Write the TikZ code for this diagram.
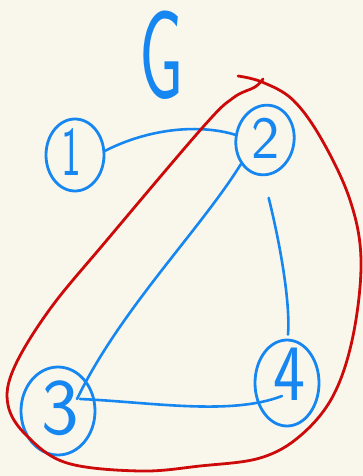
\documentclass[tikz,border=0pt]{standalone}
\usepackage{fontspec}
\usetikzlibrary{calc,shapes.geometric}
\definecolor{bg}{RGB}{249,247,236}
\definecolor{pen}{RGB}{22,134,240}
\definecolor{redpen}{RGB}{204,10,10}
\begin{document}
\begin{tikzpicture}[x=1pt,y=-1pt,
  vertex/.style={draw=pen,line width=2.8pt,ellipse,inner sep=0pt},
  digit/.style={text=pen,font=\sffamily,inner sep=0pt},
  edge/.style={draw=pen,line width=2.6pt,line cap=round},
  loop/.style={draw=redpen,line width=2.8pt,line cap=round,line join=round}]
\fill[bg] (0,0) rectangle (363,476);
\useasboundingbox (0,0) rectangle (363,476);
% vertices
\node[vertex,minimum width=58pt,minimum height=72pt] (n1) at (75,155) {};
\node[vertex,minimum width=58pt,minimum height=70pt,rotate=-10] (n2) at (265,140) {};
\node[vertex,minimum width=74pt,minimum height=88pt] (n3) at (58,411) {};
\node[vertex,minimum width=64pt,minimum height=86pt] (n4) at (287,383) {};
% labels
\node[digit,font=\sffamily\fontsize{70}{70}\selectfont,xscale=0.6] (l1) at (71,152) {1};
\node[digit,font=\sffamily\fontsize{60}{60}\selectfont] (l2) at (266,138) {2};
\node[digit,font=\sffamily\fontsize{80}{80}\selectfont] (l3) at (60,408) {3};
\node[digit,font=\sffamily\fontsize{80}{80}\selectfont,xscale=0.85] (l4) at (289,374) {4};
\node[digit,font=\sffamily\fontsize{126}{126}\selectfont,xscale=0.56] (G) at (162,55) {G};
% edges
\draw[edge] (n1.8) .. controls (150,128) and (200,124) .. (n2.west);
\draw[edge] (n2.-125) .. controls (200,230) and (120,310) .. ($(n3.center)+(19,-12)$);
\draw[edge] ($(n2.south)+(10,22)$) .. controls (284,260) and (290,310) .. ($(n4.north)+(1,-4)$);
\draw[edge] ($(n3.center)+(22,-12)$) .. controls (150,402) and (230,416) .. ($(n4.center)+(-5,13)$);
% red loop
\draw[loop] plot[smooth,tension=0.6] coordinates {(263,79) (255,87) (233,98) (203,127) (107,240) (50,309) (14,368) (8,405) (27,436) (67,463) (140,471) (200,466) (260,458) (300,436) (333,396) (353,336) (361,260) (350,200) (322,140) (293,100) (262,82) (238,76)};
\end{tikzpicture}
\end{document}
